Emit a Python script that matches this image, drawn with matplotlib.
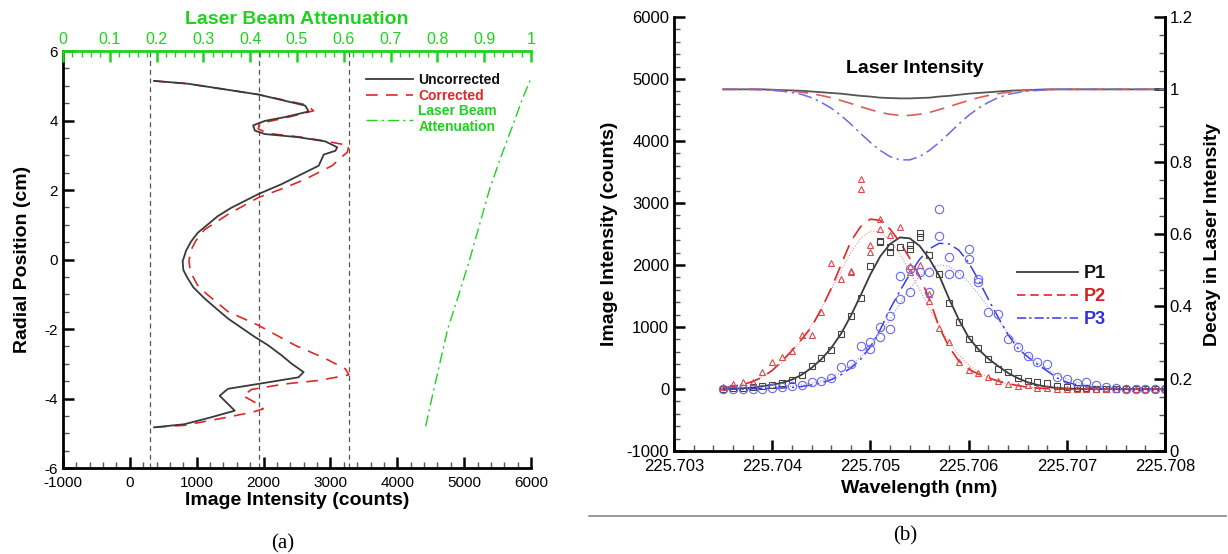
import numpy as np
import matplotlib
matplotlib.use('Agg')
import matplotlib.pyplot as plt
from matplotlib.lines import Line2D
from matplotlib.ticker import MultipleLocator

plt.rcParams['font.family'] = ['Liberation Sans', 'DejaVu Sans']
plt.rcParams['axes.unicode_minus'] = False

GREEN = '#1ed21e'

# ---- (a) radial profiles ----
unc_r = [5.14, 5.06, 4.75, 4.43, 4.26, 4.10, 3.99, 3.86, 3.71, 3.61,
         3.52, 3.40, 3.23, 3.13, 3.02, 2.70, 2.41, 2.17, 1.88, 1.49,
         1.25, 1.01, 0.77, 0.52, 0.25, -0.05, -0.30, -0.54, -0.80, -1.12,
         -1.41, -1.70, -2.23, -2.47, -2.76, -3.00, -3.24, -3.39, -3.58, -3.72,
         -3.92, -4.11, -4.35, -4.54, -4.74, -4.83]
unc_i = [362, 865, 1919, 2623, 2674, 2323, 2021, 1844, 1870, 2021,
         2518, 2922, 3102, 3075, 2900, 2825, 2522, 2271, 1919, 1518,
         1317, 1166, 1016, 916, 840, 790, 800, 865, 950, 1117,
         1292, 1469, 1870, 2070, 2271, 2422, 2599, 2522, 1919, 1469,
         1343, 1443, 1569, 1216, 814, 362]

cor_r = [5.14, 5.06, 4.75, 4.45, 4.28, 4.12, 3.98, 3.95, 3.76, 3.63,
         3.52, 3.40, 3.28, 3.09, 2.70, 2.31, 2.07, 1.78, 1.30, 0.86,
         0.55, 0.24, -0.05, -0.35, -0.73, -1.02, -1.50, -1.89, -2.47, -2.85,
         -3.15, -3.32, -3.48, -3.58, -3.74, -3.92, -4.11, -4.30, -4.40, -4.59,
         -4.77, -4.83]
cor_i = [362, 865, 1919, 2640, 2749, 2420, 2100, 1945, 1919, 2070,
         2567, 2950, 3277, 3252, 3025, 2623, 2323, 1919, 1469, 1117,
         990, 905, 885, 905, 1010, 1166, 1469, 1919, 2473, 2925,
         3226, 3277, 2825, 2322, 1819, 1694, 1870, 1994, 1819, 1317,
         814, 362]

att_r = [-4.8, -4.0, -3.0, -2.0, -1.0, 0.0, 1.0, 2.0, 3.0, 4.0, 4.6, 5.15]
att_v = [0.775, 0.788, 0.805, 0.822, 0.846, 0.869, 0.890, 0.911, 0.937, 0.965, 0.981, 0.998]

guide_x = [300, 1930, 3280]

# ---- (b) spectral scans ----
wl = np.round(np.linspace(225.7035, 225.7080, 46), 4)

p1_fit = [0, 5, 12, 22, 45, 70, 100, 150, 230, 340,
          480, 660, 890, 1180, 1510, 1850, 2140, 2340, 2445, 2430,
          2310, 2100, 1830, 1460, 1120, 830, 640, 490, 370, 260,
          175, 110, 65, 35, 18, 8, 3, 0, 0, 0,
          0, 0, 0, 0, 0, 0]
p2_fit = [20, 40, 70, 120, 190, 300, 450, 620, 800, 1000,
          1290, 1620, 2000, 2380, 2620, 2740, 2720, 2580, 2370, 2110,
          1820, 1450, 1000, 680, 450, 320, 240, 180, 130, 90,
          55, 30, 15, 8, 0, 0, 0, 0, 0, 0,
          0, 0, 0, 0, 0, 0]
p2_fit_b = [30, 50, 80, 130, 200, 300, 430, 600, 800, 1030,
            1300, 1600, 1900, 2200, 2430, 2550, 2530, 2400, 2180, 1900,
            1600, 1300, 1010, 760, 550, 390, 270, 180, 120, 80,
            50, 30, 18, 10, 5, 0, 0, 0, 0, 0,
            0, 0, 0, 0, 0, 0]
p3_fit = [0, 0, 2, 4, 6, 10, 16, 25, 40, 65,
          100, 150, 230, 340, 480, 680, 960, 1290, 1580, 1850,
          2090, 2260, 2350, 2340, 2240, 2040, 1760, 1450, 1160, 880,
          660, 520, 400, 290, 180, 110, 70, 40, 20, 10,
          5, 0, 0, 0, 0, 0]
p3_fit_b = [0, 2, 4, 8, 14, 22, 35, 50, 70, 95,
            130, 190, 270, 380, 520, 700, 900, 1120, 1380, 1620,
            1820, 1950, 2000, 1980, 1880, 1720, 1530, 1320, 1110, 910,
            730, 570, 430, 320, 230, 160, 110, 70, 45, 28,
            16, 8, 4, 0, 0, 0]

p1_pts = [0, 10, 10, 27, 43, 65, 97, 145, 226, 376,
          495, 629, 882, 1183, 1462, 1985, 2390, 2285, 2296, 2323,
          2516, 2155, 1850, 1380, 1086, 806, 665, 490, 323, 270,
          180, 125, 115, 95, 55, 25, 12, 10, 8, 8,
          6, 6, 5, 5, 5, 5]
p1_rep_wl = [225.7051, 225.7052, 225.7054, 225.7055]
p1_rep = [2366, 2204, 2258, 2446]

p2_pts = [27, 81, 118, 118, 280, 430, 520, 618, 871, 871,
          1237, 2032, 1774, 1909, 3387, 2323, 2742, 2484, 2608, 1989,
          2000, 1532, 978, 753, 430, 312, 258, 188, 134, 81,
          54, 59, 11, 10, 8, 5, 5, 3, 3, 3,
          2, 2, 2, 2, 2, 2]
p2_rep_wl = [225.7048, 225.7049, 225.7050, 225.7051, 225.7054, 225.7056]
p2_rep = [1882, 3226, 2204, 2581, 1882, 1424]

p3_pts = [0, 0, 0, 0, 0, 10, 27, 54, 65, 108,
          134, 172, 349, 403, 699, 760, 995, 1183, 1452, 1559,
          1882, 1882, 2903, 2124, 1855, 2258, 1774, 1247, 1210, 806,
          672, 538, 430, 403, 188, 161, 97, 108, 65, 27,
          11, 0, 0, 0, 0, 0]
p3_rep_wl = [225.7050, 225.7051, 225.7052, 225.7053, 225.7054, 225.7056,
             225.7057, 225.7058, 225.7060, 225.7061]
p3_rep = [650, 834, 968, 1828, 1935, 1559, 2473, 1855, 2097, 1720]

las1 = [1, 1, 1, 1, 1, 0.999, 0.998, 0.997, 0.996, 0.994,
        0.992, 0.990, 0.988, 0.985, 0.982, 0.980, 0.977, 0.976, 0.975, 0.975,
        0.976, 0.977, 0.980, 0.982, 0.985, 0.988, 0.990, 0.992, 0.994, 0.996,
        0.997, 0.998, 0.999, 1, 1, 1, 1, 1, 1, 1,
        1, 1, 1, 1, 1, 1]
las2 = [1, 1, 1, 1, 0.999, 0.998, 0.997, 0.995, 0.992, 0.988,
        0.983, 0.977, 0.969, 0.961, 0.952, 0.944, 0.936, 0.931, 0.928, 0.928,
        0.931, 0.936, 0.944, 0.952, 0.961, 0.969, 0.977, 0.983, 0.988, 0.992,
        0.995, 0.997, 0.998, 0.999, 1, 1, 1, 1, 1, 1,
        1, 1, 1, 1, 1, 1]
las3 = [1, 1, 1, 1, 0.999, 0.997, 0.995, 0.991, 0.986, 0.977,
        0.964, 0.948, 0.928, 0.904, 0.878, 0.853, 0.831, 0.814, 0.805, 0.805,
        0.814, 0.831, 0.853, 0.878, 0.904, 0.928, 0.948, 0.964, 0.977, 0.986,
        0.991, 0.995, 0.997, 0.999, 1, 1, 1, 1, 1, 1,
        1, 1, 1, 1, 1, 1]

BLK = '#3a3a3a'
RED = '#e02828'
BLUE = '#3a3ae8'

fig = plt.figure(figsize=(12.28, 5.54), dpi=100)

# ================= panel (a) =================
ax = fig.add_axes([0.0513, 0.1552, 0.3811, 0.7527])
ax.set_xlim(-1000, 6000)
ax.set_ylim(-6, 6)
for gx in guide_x:
    ax.axvline(gx, color='#555555', lw=0.9, ls=(0, (4, 3)))
ax.plot(cor_i, cor_r, color=RED, lw=1.2, ls=(0, (7, 5)))
ax.plot(unc_i, unc_r, color=BLK, lw=1.3)

ax.set_xticks(range(-1000, 6001, 1000))
ax.xaxis.set_minor_locator(MultipleLocator(200))
ax.set_yticks(range(-6, 7, 2))
ax.yaxis.set_minor_locator(MultipleLocator(0.5))
ax.tick_params(which='major', direction='in', length=8, width=1.8, labelsize=11)
ax.tick_params(which='minor', direction='in', length=4, width=1.0, color='#555555')
ax.tick_params(axis='x', pad=6)
for s in ['top', 'right']:
    ax.spines[s].set_visible(False)
for s in ['left', 'bottom']:
    ax.spines[s].set_linewidth(2)
ax.set_xlabel('Image Intensity (counts)', fontsize=14, fontweight='bold', labelpad=1)
ax.set_ylabel('Radial Position (cm)', fontsize=14, fontweight='bold', labelpad=10)

ax2 = ax.twiny()
ax2.set_xlim(0, 1)
ax2.plot(att_v, att_r, color=GREEN, lw=1.0, ls=(0, (8, 3, 1.5, 3)))
ax2.set_xticks(np.round(np.arange(0, 1.01, 0.1), 1))
ax2.set_xticklabels(['0', '0.1', '0.2', '0.3', '0.4', '0.5', '0.6', '0.7', '0.8', '0.9', '1'])
ax2.xaxis.set_minor_locator(MultipleLocator(0.02))
ax2.tick_params(which='major', direction='in', length=8, width=1.8, colors=GREEN,
                labelsize=11.5, pad=3)
ax2.tick_params(which='minor', direction='in', length=4, width=1.0, colors=GREEN)
for s in ['left', 'right', 'bottom']:
    ax2.spines[s].set_visible(False)
ax2.spines['top'].set_color(GREEN)
ax2.spines['top'].set_linewidth(2)
ax2.set_xlabel('Laser Beam Attenuation', fontsize=14, fontweight='bold', color=GREEN, labelpad=6)

hnd = [Line2D([], [], color=BLK, lw=1.3),
       Line2D([], [], color=RED, lw=1.2, ls=(0, (7, 5))),
       Line2D([], [], color=GREEN, lw=1.0, ls=(0, (8, 3, 1.5, 3)))]
ax2.legend(hnd, ['Uncorrected', 'Corrected', 'Laser Beam\nAttenuation'],
           loc='upper left', bbox_to_anchor=(0.62, 0.977), frameon=False,
           handlelength=3.4, handletextpad=0.4, labelspacing=0.1,
           prop={'weight': 'bold', 'size': 10}, labelcolor=['#111111', RED, GREEN])

# ================= panel (b) =================
axb = fig.add_axes([0.5489, 0.1859, 0.3998, 0.7834])
axb.set_xlim(225.703, 225.708)
axb.set_ylim(-1000, 6000)

axb.plot(wl, p2_fit_b, color='#f09090', lw=0.8, ls=(0, (1, 1.5)))
axb.plot(wl, p3_fit_b, color='#9a9af2', lw=0.8, ls=(0, (1, 1.5)))
axb.plot(wl, p1_fit, color=BLK, lw=1.3)
axb.plot(wl, p2_fit, color=RED, lw=1.2, ls=(0, (9, 5)))
axb.plot(wl, p3_fit, color=BLUE, lw=1.1, ls=(0, (9, 3, 1.5, 3)))

mk = dict(ls='none', mfc='none', mew=0.8)
axb.plot(wl, p1_pts, 's', mec='#444444', ms=4.5, **mk)
axb.plot(p1_rep_wl, p1_rep, 's', mec='#444444', ms=4.5, **mk)
axb.plot(wl, p2_pts, '^', mec='#e04848', ms=5, **mk)
axb.plot(p2_rep_wl, p2_rep, '^', mec='#e04848', ms=5, **mk)
axb.plot(wl, p3_pts, 'o', mec='#6868ee', ms=6, **mk)
axb.plot(p3_rep_wl, p3_rep, 'o', mec='#6868ee', ms=6, **mk)

xt = [225.703, 225.704, 225.705, 225.706, 225.707, 225.708]
axb.set_xticks(xt)
axb.set_xticklabels(['%.3f' % v for v in xt])
axb.set_xticks(np.linspace(225.703, 225.708, 26), minor=True)
axb.set_yticks(range(-1000, 6001, 1000))
axb.yaxis.set_minor_locator(MultipleLocator(200))
axb.tick_params(which='major', direction='in', length=8, width=1.8, labelsize=12)
axb.tick_params(which='minor', direction='in', length=4, width=1.0, color='#555555')
axb.tick_params(axis='x', pad=6)
axb.spines['top'].set_visible(False)
for s in ['left', 'bottom', 'right']:
    axb.spines[s].set_linewidth(2)
axb.set_xlabel('Wavelength (nm)', fontsize=14, fontweight='bold', labelpad=4)
axb.set_ylabel('Image Intensity (counts)', fontsize=14, fontweight='bold', labelpad=6)

axr = axb.twinx()
axr.set_ylim(0, 1.2)
axr.plot(wl, las1, color='#555555', lw=1.3)
axr.plot(wl, las2, color='#e05a5a', lw=1.2, ls=(0, (9, 5)))
axr.plot(wl, las3, color='#6a6aee', lw=1.1, ls=(0, (9, 3, 1.5, 3)))
axr.set_yticks([0, 0.2, 0.4, 0.6, 0.8, 1.0, 1.2])
axr.set_yticklabels(['0', '0.2', '0.4', '0.6', '0.8', '1', '1.2'])
axr.yaxis.set_minor_locator(MultipleLocator(0.05))
axr.tick_params(which='major', direction='in', length=8, width=1.8, labelsize=12)
axr.tick_params(which='minor', direction='in', length=4, width=1.0, color='#555555')
axr.spines['top'].set_visible(False)
axr.spines['right'].set_linewidth(2)
axr.set_ylabel('Decay in Laser Intensity', fontsize=14, fontweight='bold', labelpad=8)

axr.text(0.491, 0.882, 'Laser Intensity', transform=axr.transAxes, ha='center',
         va='center', fontsize=14, fontweight='bold')

hb = [Line2D([], [], color=BLK, lw=1.3),
      Line2D([], [], color=RED, lw=1.2, ls=(0, (5, 3))),
      Line2D([], [], color=BLUE, lw=1.1, ls=(0, (6, 2, 1.5, 2)))]
axr.legend(hb, ['P1', 'P2', 'P3'], loc='upper left', bbox_to_anchor=(0.665, 0.465),
           frameon=False, handlelength=3.4, handletextpad=0.3, labelspacing=0.32,
           prop={'weight': 'bold', 'size': 13}, labelcolor=['#111111', '#d42020', '#3030e0'])

# captions and separator
fig.add_artist(Line2D([0.480, 0.998], [0.0686, 0.0686], transform=fig.transFigure,
                      color='#888888', lw=1.2))
fig.text(283 / 1228, 1 - 544 / 554, '(a)', family='Liberation Serif', fontsize=15,
         ha='center', va='center')
fig.text(905 / 1228, 1 - 536 / 554, '(b)', family='Liberation Serif', fontsize=15,
         ha='center', va='center')

fig.savefig('out.png', dpi=100)
